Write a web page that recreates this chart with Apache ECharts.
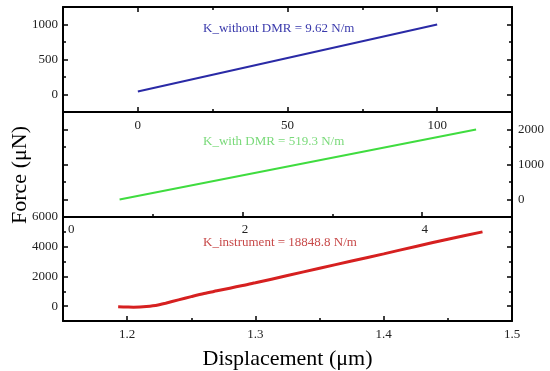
<!DOCTYPE html>
<html><head><meta charset="utf-8">
<script src="https://cdn.jsdelivr.net/npm/echarts@6/dist/echarts.min.js"></script>
<style>html,body{margin:0;padding:0;background:#fff}#c{width:550px;height:371px}</style>
</head><body><div id="c"></div>
<script>
// ---- data ----
const blueDisp = [0, 100];
const blueForce = [43, 1000];
const greenDisp = [0.63, 4.60];
const greenForce = [0, 2000];
const redDisp = [1.193, 1.200, 1.205, 1.210, 1.215, 1.220, 1.225, 1.230, 1.240, 1.250, 1.260, 1.270, 1.280, 1.290, 1.300, 1.325, 1.350, 1.375, 1.400, 1.425, 1.450, 1.477];
const redForce = [-40, -60, -70, -60, -30, 20, 100, 200, 420, 640, 850, 1030, 1210, 1390, 1570, 2060, 2550, 3040, 3520, 4020, 4500, 5000];

const topXTicks = [0, 50, 100], topXMinor = [25, 75];
const midXTicks = [0, 2, 4], midXMinor = [1, 3];
const botXTicks = [1.2, 1.3, 1.4, 1.5], botXMinor = [1.25, 1.35, 1.45];
const topYTicks = [0, 500, 1000], topYMinor = [250, 750];
const midYTicks = [0, 1000, 2000], midYMinor = [500, 1500];
const botYTicks = [0, 2000, 4000, 6000], botYMinor = [1000, 3000, 5000];

const labels = {
  blue: 'K_without DMR = 9.62 N/m',
  green: 'K_with DMR = 519.3 N/m',
  red: 'K_instrument = 18848.8 N/m',
  xTitle: 'Displacement (μm)',
  yTitle: 'Force (μN)'
};

// ---- layout ----
const FONT = '"Liberation Serif", "Times New Roman", serif';
const L = 63, W = 449, H = 105, T0 = 7;
const grids = [0, 1, 2].map(i => ({left: L, top: T0 + i * H, width: W, height: H, show: false}));
const xAxes = [], yAxes = [];

function axis(list, g, position, min, max, o) {
  const a = {
    type: 'value', gridIndex: g, position: position, min: min, max: max,
    axisLine: {show: !!o.line, onZero: false, lineStyle: {color: '#000', width: 2}},
    axisTick: {show: !!o.ticks, inside: true, length: o.len || 5, lineStyle: {color: '#000', width: 1.5}},
    axisLabel: {show: !!o.labels, color: '#222', fontFamily: FONT, fontSize: 13, margin: o.margin || 6,
      formatter: v => String(+v.toFixed(4))},
    splitLine: {show: false}
  };
  if (o.ticks) a.axisTick.customValues = o.ticks;
  if (o.labels) { a.axisLabel.customValues = o.labels; a.axisTick.customValues = o.ticks; }
  if (o.extra) Object.assign(a, o.extra);
  if (o.labelExtra) Object.assign(a.axisLabel, o.labelExtra);
  list.push(a);
  return list.length - 1;
}

// top panel
const tX = axis(xAxes, 0, 'bottom', -25, 125, {line: true, ticks: topXTicks, labels: topXTicks, len: 5, margin: 7});
axis(xAxes, 0, 'bottom', -25, 125, {ticks: topXMinor, len: 3});
axis(xAxes, 0, 'top', -25, 125, {line: true, ticks: topXTicks, len: 5});
axis(xAxes, 0, 'top', -25, 125, {ticks: topXMinor, len: 3});
const tY = axis(yAxes, 0, 'left', -250, 1250, {line: true, ticks: topYTicks, labels: topYTicks, len: 5, margin: 5});
axis(yAxes, 0, 'left', -250, 1250, {ticks: topYMinor, len: 3});
axis(yAxes, 0, 'right', -250, 1250, {line: true, ticks: topYTicks, len: 5});
axis(yAxes, 0, 'right', -250, 1250, {ticks: topYMinor, len: 3});

// middle panel
const mX = axis(xAxes, 1, 'bottom', 0, 5, {line: true, ticks: midXTicks, labels: midXTicks, len: 5, margin: 6,
  labelExtra: {alignMinLabel: 'left', padding: [0, 0, 0, 5]}});
axis(xAxes, 1, 'bottom', 0, 5, {ticks: midXMinor, len: 3});
const mY = axis(yAxes, 1, 'right', -500, 2500, {line: true, ticks: midYTicks, labels: midYTicks, len: 5, margin: 6});
axis(yAxes, 1, 'right', -500, 2500, {ticks: midYMinor, len: 3});
axis(yAxes, 1, 'left', -500, 2500, {line: true, ticks: midYTicks, len: 5});
axis(yAxes, 1, 'left', -500, 2500, {ticks: midYMinor, len: 3});

// bottom panel
const bX = axis(xAxes, 2, 'bottom', 1.15, 1.5, {line: true, ticks: botXTicks, labels: botXTicks, len: 5, margin: 7,
  extra: {name: labels.xTitle, nameLocation: 'middle', nameGap: 27,
    nameTextStyle: {fontFamily: FONT, fontSize: 22, color: '#000'}}});
axis(xAxes, 2, 'bottom', 1.15, 1.5, {ticks: botXMinor, len: 3});
const bY = axis(yAxes, 2, 'left', -1000, 6000, {line: true, ticks: botYTicks, labels: botYTicks, len: 5, margin: 5});
axis(yAxes, 2, 'left', -1000, 6000, {ticks: botYMinor, len: 3});
axis(yAxes, 2, 'right', -1000, 6000, {line: true, ticks: botYTicks, len: 5});
axis(yAxes, 2, 'right', -1000, 6000, {ticks: botYMinor, len: 3});

const zip = (a, b) => a.map((v, i) => [v, b[i]]);

const option = {
  animation: false,
  backgroundColor: '#fff',
  grid: grids,
  xAxis: xAxes,
  yAxis: yAxes,
  series: [
    {type: 'line', xAxisIndex: tX, yAxisIndex: tY, data: zip(blueDisp, blueForce), showSymbol: false,
     lineStyle: {color: '#2a2aa6', width: 2}},
    {type: 'line', xAxisIndex: mX, yAxisIndex: mY, data: zip(greenDisp, greenForce), showSymbol: false,
     lineStyle: {color: '#3fdc3f', width: 2}},
    {type: 'line', xAxisIndex: bX, yAxisIndex: bY, data: zip(redDisp, redForce), showSymbol: false, smooth: 0.3,
     lineStyle: {color: '#d62020', width: 3}}
  ],
  graphic: [
    {type: 'text', x: 203, y: 29, style: {text: labels.blue, fill: '#3a3aac', font: '13px ' + FONT, align: 'left', verticalAlign: 'middle'}},
    {type: 'text', x: 203, y: 142, style: {text: labels.green, fill: '#7ada7a', font: '13px ' + FONT, align: 'left', verticalAlign: 'middle'}},
    {type: 'text', x: 203, y: 243, style: {text: labels.red, fill: '#c84a4a', font: '13px ' + FONT, align: 'left', verticalAlign: 'middle'}},
    {type: 'text', x: 20, y: 175, rotation: Math.PI / 2, style: {text: labels.yTitle, fill: '#000', font: '22px ' + FONT, align: 'center', verticalAlign: 'middle'}}
  ]
};
const chart = echarts.init(document.getElementById('c'), null, {renderer: 'canvas'});
chart.setOption(option);
</script>
</body></html>
